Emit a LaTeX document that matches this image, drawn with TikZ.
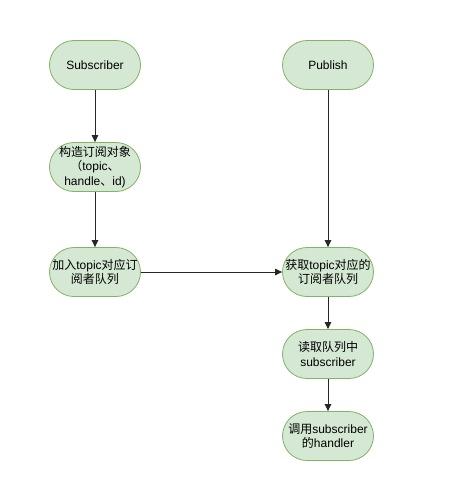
\documentclass[tikz,border=0pt]{standalone}
\usepackage{fontspec}
\setmainfont{Liberation Sans}
\newfontfamily\cjk{Noto Sans CJK SC}
\usetikzlibrary{arrows.meta}
\definecolor{nodefill}{HTML}{D5E8D4}
\definecolor{nodeline}{HTML}{82B366}
\tikzset{
  term/.style={draw=nodeline, fill=nodefill, rounded rectangle-ish, minimum width=91pt, minimum height=49pt, rounded corners=24.5pt, align=center, font=\fontsize{12}{14.5}\selectfont, inner sep=1pt, line width=0.8pt},
  rounded rectangle-ish/.style={rectangle},
  conn/.style={draw=black!85, line width=1pt, -{Triangle[length=7pt,width=6.5pt]}}
}
\begin{document}
\begin{tikzpicture}[x=1pt,y=-1pt]
\useasboundingbox (0,0) rectangle (466,496);
\fill[white] (0,0) rectangle (466,496);
\node[term] (sub) at (95,65) {Subscriber};
\node[term] (pub) at (328,65) {Publish};
\node[term] (make) at (95,167) {{\cjk 构造订阅对象}\\{\cjk （}topic{\cjk 、}\\handle{\cjk 、}id)};
\node[term] (join) at (95,272) {{\cjk 加入}topic{\cjk 对应订}\\{\cjk 阅者队列}};
\node[term] (get) at (328,272) {{\cjk 获取}topic{\cjk 对应的}\\{\cjk 订阅者队列}};
\node[term] (read) at (328,354) {{\cjk 读取队列中}\\subscriber};
\node[term] (call) at (328,436) {{\cjk 调用}subscriber\\{\cjk 的}handler};
\draw[conn] (sub) -- (make);
\draw[conn] (make) -- (join);
\draw[conn] (join) -- (get);
\draw[conn] (pub) -- (get);
\draw[conn] (get) -- (read);
\draw[conn] (read) -- (call);
\end{tikzpicture}
\end{document}
